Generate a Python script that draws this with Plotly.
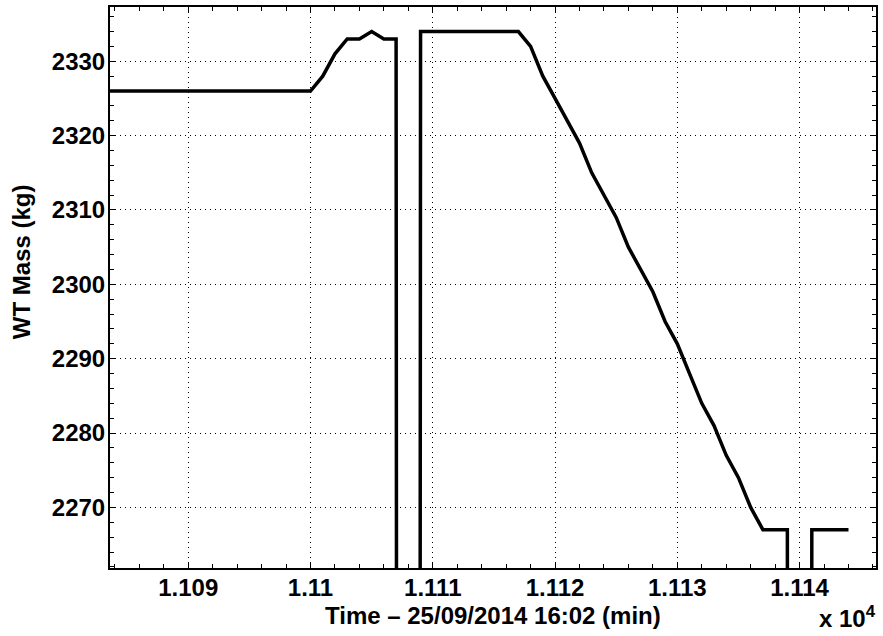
import plotly.graph_objects as go

# WT mass record, minutes since 25/09/2014 16:02
time_min = [11083, 11100, 11101, 11102, 11103, 11104, 11105, 11106, 11107, 11108,
            11109, 11117, 11118, 11119, 11120, 11121, 11122, 11123, 11124, 11125,
            11126, 11127, 11128, 11129, 11130, 11131, 11132, 11133, 11134, 11135,
            11136, 11137, 11139, 11140, 11141, 11144]
mass_kg = [2326, 2326, 2328, 2331, 2333, 2333, 2334, 2333, 2333, 0,
           2334, 2334, 2332, 2328, 2325, 2322, 2319, 2315, 2312, 2309,
           2305, 2302, 2299, 2295, 2292, 2288, 2284, 2281, 2277, 2274,
           2270, 2267, 2267, 0, 2267, 2267]

x_ticks = [11090, 11100, 11110, 11120, 11130, 11140]
x_tick_labels = ['1.109', '1.11', '1.111', '1.112', '1.113', '1.114']
y_ticks = [2270, 2280, 2290, 2300, 2310, 2320, 2330]

FONT = 'Liberation Sans'
fs = 24
bold = dict(family=FONT, size=fs, color='black', weight='bold')

fig = go.Figure()
fig.add_trace(go.Scatter(x=time_min, y=mass_kg, mode='lines',
                         line=dict(color='black', width=3.5), showlegend=False))

axis_common = dict(
    showline=True, linecolor='black', linewidth=2, mirror='allticks',
    ticks='inside', ticklen=6, tickwidth=1, tickcolor='black',
    showgrid=True, gridcolor='black', gridwidth=1, griddash='1px,4px',
    zeroline=False, tickfont=bold,
)

fig.update_xaxes(
    range=[11083.6, 11146.25], tickmode='array', tickvals=x_ticks, ticktext=x_tick_labels,
    minor=dict(dtick=2, tick0=11090, ticks='inside', ticklen=4, tickcolor='black', showgrid=False),
    ticklabelstandoff=-3,
    **axis_common)
fig.update_yaxes(
    range=[2261.85, 2337.3], tickmode='array', tickvals=y_ticks,
    minor=dict(dtick=2, tick0=2270, ticks='inside', ticklen=4, tickcolor='black', showgrid=False),
    ticklabelstandoff=-2,
    **axis_common)

# axis titles and the MATLAB style exponent
fig.add_annotation(text='Time \u2013 25/09/2014 16:02 (min)', xref='paper', yref='paper',
                   x=0.5, y=-0.0838, xanchor='center', yanchor='middle', showarrow=False, font=bold)
fig.add_annotation(text='WT Mass (kg)', xref='paper', yref='paper', textangle=-90,
                   x=-0.1146, y=0.5455, xanchor='center', yanchor='middle', showarrow=False, font=bold)
fig.add_annotation(text='x 10<sup>4</sup>', xref='paper', yref='paper', x=1.003, y=-0.087,
                   xanchor='right', yanchor='middle', showarrow=False, font=bold)

fig.update_layout(
    width=883, height=636,
    margin=dict(l=110, r=5, t=7, b=68),
    paper_bgcolor='white', plot_bgcolor='white',
)

fig.write_html('out.html', config={'displayModeBar': False},
               post_script="document.body.style.margin='0';")
